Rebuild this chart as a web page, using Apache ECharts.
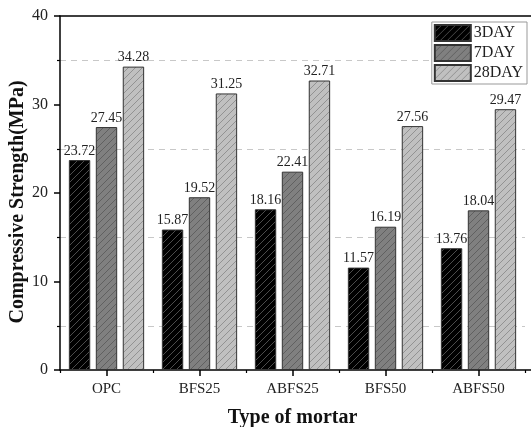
<!DOCTYPE html>
<html>
<head>
<meta charset="utf-8">
<script src="https://cdn.jsdelivr.net/npm/echarts@6/dist/echarts.min.js"></script>
<style>html,body{margin:0;padding:0;background:#fff}#c{width:531px;height:427px}</style>
</head>
<body>
<div id="c"></div>
<script>
var categories = ['OPC', 'BFS25', 'ABFS25', 'BFS50', 'ABFS50'];
var seriesNames = ['3DAY', '7DAY', '28DAY'];
var day3 = [23.72, 15.87, 18.16, 11.57, 13.76];
var day7 = [27.45, 19.52, 22.41, 16.19, 18.04];
var day28 = [34.28, 31.25, 32.71, 27.56, 29.47];
var yTicks = [0, 10, 20, 30, 40];

function hatch(bg, fg) {
  var s = 7;
  var c = document.createElement('canvas');
  c.width = s; c.height = s;
  var ctx = c.getContext('2d');
  ctx.fillStyle = bg; ctx.fillRect(0, 0, s, s);
  ctx.strokeStyle = fg; ctx.lineWidth = 0.9;
  ctx.beginPath();
  ctx.moveTo(-1, s + 1); ctx.lineTo(s + 1, -1);
  ctx.moveTo(-1, 1); ctx.lineTo(1, -1);
  ctx.moveTo(s - 1, s + 1); ctx.lineTo(s + 1, s - 1);
  ctx.stroke();
  return { image: c, repeat: 'repeat' };
}

var fills = [hatch('#000000', '#555555'), hatch('#808080', '#5c5c5c'), hatch('#c0c0c0', '#8c8c8c')];
var dataSets = [day3, day7, day28];
var font = 'Liberation Serif';

var chart = echarts.init(document.getElementById('c'), null, { renderer: 'canvas' });
var series = seriesNames.map(function (n, i) {
  return {
    name: n, type: 'bar', data: dataSets[i], xAxisIndex: 0, yAxisIndex: 0,
    barWidth: '23%', barGap: '26%',
    itemStyle: { color: fills[i], borderColor: '#333', borderWidth: 1 },
    label: { show: true, position: 'top', distance: 2, fontFamily: font, fontSize: 14, color: '#222',
      formatter: function (p) { return p.value.toFixed(2); } }
  };
});

chart.setOption({
  animation: false,
  textStyle: { fontFamily: font },
  grid: [
    { left: 60, right: 6, top: 16, bottom: 57, containLabel: false, outerBoundsMode: 'none' },
    { left: 60, right: 0, top: 16, bottom: 57, containLabel: false, outerBoundsMode: 'none' }
  ],
  legend: {
    orient: 'vertical', right: 4, top: 22, itemWidth: 36, itemHeight: 16, itemGap: 2,
    icon: 'rect',
    padding: [2, 4, 2, 2], borderColor: '#999', borderWidth: 1, backgroundColor: '#fff',
    textStyle: { fontFamily: font, fontSize: 16, color: '#222', padding: [0, 0, 0, -2] },
    data: seriesNames
  },
  xAxis: [
    {
      type: 'category', data: categories, gridIndex: 0, position: 'bottom',
      axisLine: { show: false },
      axisTick: { show: true, alignWithLabel: true, length: 6, lineStyle: { color: '#000', width: 1.5 } },
      axisLabel: { fontFamily: font, fontSize: 15, color: '#222', margin: 12 },
      name: 'Type of mortar', nameLocation: 'middle', nameGap: 38, nameMoveOverlap: false,
      nameTextStyle: { fontFamily: font, fontSize: 20, fontWeight: 'bold', color: '#111' }
    },
    {
      type: 'category', data: categories, gridIndex: 0, position: 'bottom',
      axisLine: { show: false },
      axisTick: { show: true, length: 3, lineStyle: { color: '#000', width: 1.2 } },
      axisLabel: { show: false }
    },
    {
      type: 'value', gridIndex: 1, position: 'bottom', min: 0, max: 1,
      axisLine: { show: true, lineStyle: { color: '#000', width: 1.5 } },
      axisTick: { show: false }, axisLabel: { show: false }, splitLine: { show: false }
    },
    {
      type: 'value', gridIndex: 1, position: 'top', min: 0, max: 1,
      axisLine: { show: true, lineStyle: { color: '#000', width: 1.5 } },
      axisTick: { show: false }, axisLabel: { show: false }, splitLine: { show: false }
    }
  ],
  yAxis: [
    {
      type: 'value', gridIndex: 0, min: yTicks[0], max: yTicks[yTicks.length - 1], interval: 10,
      axisLine: { show: true, lineStyle: { color: '#000', width: 1.5 } },
      axisTick: { show: true, length: 6, lineStyle: { color: '#000', width: 1.5 } },
      minorTick: { show: true, splitNumber: 2, length: 3, lineStyle: { color: '#000', width: 1.2 } },
      splitLine: { show: false },
      minorSplitLine: { show: true, lineStyle: { color: '#c8c8c8', type: [6, 5], width: 1 } },
      axisLabel: { fontFamily: font, fontSize: 16, color: '#222', margin: 12 },
      name: 'Compressive Strength(MPa)', nameLocation: 'middle', nameGap: 32, nameMoveOverlap: false,
      nameTextStyle: { fontFamily: font, fontSize: 20, fontWeight: 'bold', color: '#111', padding: [0, 18, 0, 0] }
    },
    {
      type: 'value', gridIndex: 1, min: 0, max: 1, show: false
    }
  ],
  series: series
});
</script>
</body>
</html>
